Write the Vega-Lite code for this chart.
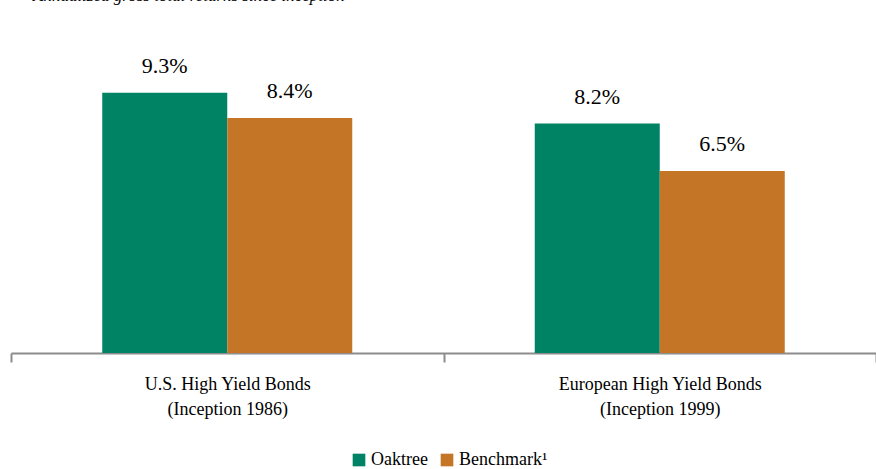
{
  "$schema": "https://vega.github.io/schema/vega-lite/v6.json",
  "autosize": {"type": "none"},
  "width": 865,
  "height": 333,
  "padding": {"left": 11, "top": 20, "right": 0, "bottom": 116},
  "background": "white",
  "title": {
    "text": "Annualized gross total returns since inception",
    "anchor": "start",
    "frame": "group",
    "orient": "top",
    "offset": 2,
    "dx": 22,
    "baseline": "alphabetic",
    "font": "Liberation Serif",
    "fontSize": 17,
    "fontStyle": "italic",
    "fontWeight": "normal",
    "color": "#000000"
  },
  "data": {
    "values": [
      {"category": "U.S. High Yield Bonds|(Inception 1986)", "series": "Oaktree", "value": 0.093},
      {"category": "U.S. High Yield Bonds|(Inception 1986)", "series": "Benchmark¹", "value": 0.084},
      {"category": "European High Yield Bonds|(Inception 1999)", "series": "Oaktree", "value": 0.082},
      {"category": "European High Yield Bonds|(Inception 1999)", "series": "Benchmark¹", "value": 0.065}
    ]
  },
  "encoding": {
    "x": {
      "field": "category",
      "type": "nominal",
      "sort": null,
      "title": null,
      "scale": {"paddingInner": 0, "paddingOuter": 0},
      "axis": {
        "labelExpr": "datum.value ? split(datum.value, '|') : ''",
        "labelAngle": 0,
        "labelLimit": 0,
        "labelFont": "Liberation Serif",
        "labelFontSize": 18,
        "labelColor": "#000000",
        "labelLineHeight": 25,
        "labelPadding": 13,
        "domainColor": "#8c8c8c",
        "domainWidth": 2,
        "tickColor": "#8c8c8c",
        "tickWidth": 2,
        "tickSize": 9,
        "tickBand": "extent",
        "grid": false
      }
    },
    "xOffset": {
      "field": "series",
      "type": "nominal",
      "sort": ["Oaktree", "Benchmark¹"],
      "scale": {"paddingInner": 0, "paddingOuter": 0.73}
    },
    "y": {
      "field": "value",
      "type": "quantitative",
      "scale": {"domain": [0, 0.119]},
      "axis": null
    }
  },
  "layer": [
    {
      "mark": {"type": "bar"},
      "encoding": {
        "color": {
          "field": "series",
          "type": "nominal",
          "sort": ["Oaktree", "Benchmark¹"],
          "scale": {"domain": ["Oaktree", "Benchmark¹"], "range": ["#008264", "#C47526"]},
          "legend": {
            "title": null,
            "orient": "none",
            "legendX": 339,
            "legendY": 431,
            "direction": "horizontal",
            "symbolType": "square",
            "symbolSize": 160,
            "symbolStrokeWidth": 0,
            "labelFont": "Liberation Serif",
            "labelFontSize": 18,
            "labelColor": "#000000",
            "labelOffset": 3,
            "columnPadding": 10
          }
        }
      }
    },
    {
      "mark": {"type": "text", "dy": -15, "baseline": "bottom", "font": "Liberation Serif", "fontSize": 22, "color": "#000000"},
      "encoding": {
        "text": {"field": "value", "type": "quantitative", "format": ".1%"}
      }
    }
  ],
  "config": {
    "font": "Liberation Serif",
    "view": {"stroke": null}
  }
}
